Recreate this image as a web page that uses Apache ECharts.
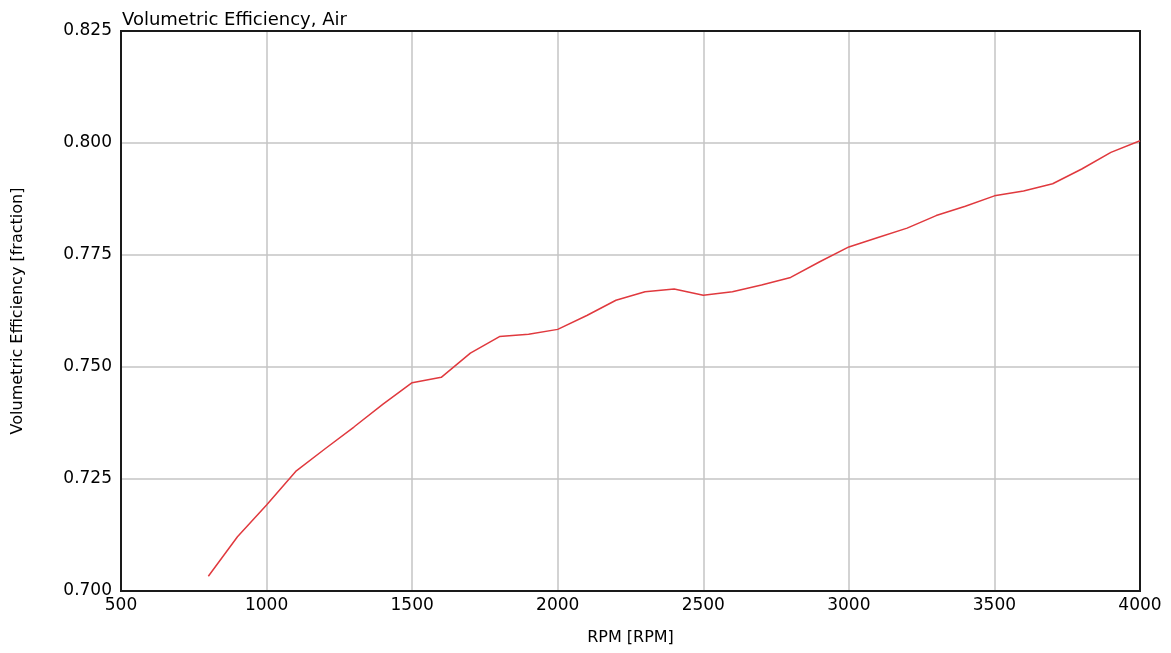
<!DOCTYPE html>
<html>
<head>
<meta charset="utf-8">
<title>Volumetric Efficiency, Air</title>
<script src="https://cdn.jsdelivr.net/npm/echarts@6/dist/echarts.min.js"></script>
<style>
  html, body { margin: 0; padding: 0; background: #fff; }
  #chart { width: 1171px; height: 653px; }
</style>
</head>
<body>
<div id="chart"></div>
<script>
// RPM points and volumetric efficiency
const rpm = [800, 900, 1000, 1100, 1200, 1300, 1400, 1500, 1600, 1700, 1800, 1900,
  2000, 2100, 2200, 2300, 2400, 2500, 2600, 2700, 2800, 2900, 3000, 3100,
  3200, 3300, 3400, 3500, 3600, 3700, 3800, 3900, 4000];
const volEff = [0.7033, 0.7121, 0.7192, 0.7267, 0.7317, 0.7366, 0.7417, 0.7465, 0.7477, 0.7531, 0.7568, 0.7573,
  0.7584, 0.7615, 0.7649, 0.7668, 0.7674, 0.7660, 0.7668, 0.7683, 0.7700, 0.7735, 0.7768, 0.7789,
  0.7810, 0.7838, 0.7859, 0.7882, 0.7893, 0.7909, 0.7942, 0.7979, 0.8005];

const font = '"DejaVu Sans", Verdana, sans-serif';

function getOption() {
  return {
    animation: false,
    backgroundColor: '#fff',
    title: {
      text: 'Volumetric Efficiency, Air',
      left: 117,
      top: 6,
      textStyle: { fontFamily: font, fontSize: 18, fontWeight: 'normal', color: '#000' },
    },
    grid: {
      left: 121,
      right: 31,
      top: 31,
      bottom: 62,
      outerBoundsMode: 'none',
      show: true,
      borderColor: '#1a1a1a',
      borderWidth: 2,
      z: 3,
    },
    xAxis: {
      type: 'value',
      min: 500,
      max: 4000,
      interval: 500,
      name: 'RPM [RPM]',
      nameLocation: 'middle',
      nameGap: 39,
      nameTextStyle: { fontFamily: font, fontSize: 16, color: '#000' },
      axisLine: { show: false },
      axisTick: { show: false },
      axisLabel: {
        fontFamily: font, fontSize: 17, color: '#000', margin: 6,
        formatter: (v) => String(v),
      },
      splitLine: { showMinLine: false, showMaxLine: false, lineStyle: { color: '#c4c4c4', width: 1.5 } },
    },
    yAxis: {
      type: 'value',
      min: 0.7,
      max: 0.825,
      interval: 0.025,
      name: 'Volumetric Efficiency [fraction]',
      nameLocation: 'middle',
      nameGap: 95,
      nameTextStyle: { fontFamily: font, fontSize: 16, color: '#000' },
      axisLine: { show: false },
      axisTick: { show: false },
      axisLabel: {
        fontFamily: font, fontSize: 17, color: '#000', margin: 9,
        formatter: (v) => v.toFixed(3),
      },
      splitLine: { showMinLine: false, showMaxLine: false, lineStyle: { color: '#c4c4c4', width: 1.5 } },
    },
    series: [{
      type: 'line',
      data: rpm.map((r, i) => [r, volEff[i]]),
      showSymbol: false,
      lineStyle: { color: '#e0393e', width: 1.5 },
      itemStyle: { color: '#e0393e' },
    }],
  };
}

const chart = echarts.init(document.getElementById('chart'));
chart.setOption(getOption());
</script>
</body>
</html>
